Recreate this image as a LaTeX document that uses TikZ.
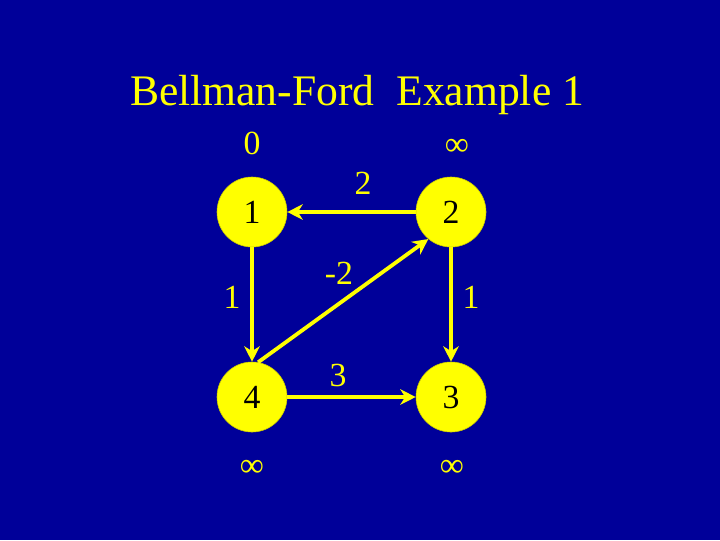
\documentclass[tikz,border=0pt]{standalone}
\usepackage{fontspec}
\setmainfont{Liberation Serif}
\usetikzlibrary{arrows.meta}

\definecolor{slideblue}{RGB}{0,0,153}
\definecolor{slideyellow}{RGB}{255,255,0}

\begin{document}
\begin{tikzpicture}[x=0.025cm, y=-0.025cm,
  vertex/.style={circle, fill=slideyellow, draw=slideyellow!80!black, thin,
    minimum size=1.75cm, inner sep=0pt, text=black,
    font=\fontsize{24}{24}\selectfont},
  edge/.style={draw=slideyellow, line width=2.7pt,
    -{Stealth[length=11pt, width=11pt, inset=3.5pt]}},
  lbl/.style={text=slideyellow, font=\fontsize{24}{24}\selectfont}]

  % Background
  \fill[slideblue] (0,0) rectangle (720,540);

  % Title
  \node[lbl, font=\fontsize{31}{31}\selectfont] (title) at (357,95)
    {Bellman-Ford\ \ Example 1};

  % Vertices
  \node[vertex] (n1) at (252,212) {1};
  \node[vertex] (n2) at (451,212) {2};
  \node[vertex] (n4) at (252,397) {4};
  \node[vertex] (n3) at (451,397) {3};

  % Distance estimates
  \node[lbl] (d1) at (252,143) {0};
  \node[lbl] (d2) at (457,147) {∞};
  \node[lbl] (d4) at (252,468) {∞};
  \node[lbl] (d3) at (452,468) {∞};

  % Edges
  \draw[edge] (n2) -- (n1);
  \draw[edge] (n1) -- (n4);
  \draw[edge] (n4) -- (n3);
  \draw[edge] (n2) -- (n3);
  \draw[edge] (n4.80) -- (n2.230);

  % Edge weights
  \node[lbl] (w21) at (363,183) {2};
  \node[lbl] (w14) at (232,297) {1};
  \node[lbl] (w42) at (339,273) {-2};
  \node[lbl] (w23) at (471,297) {1};
  \node[lbl] (w43) at (338,375) {3};
\end{tikzpicture}
\end{document}
